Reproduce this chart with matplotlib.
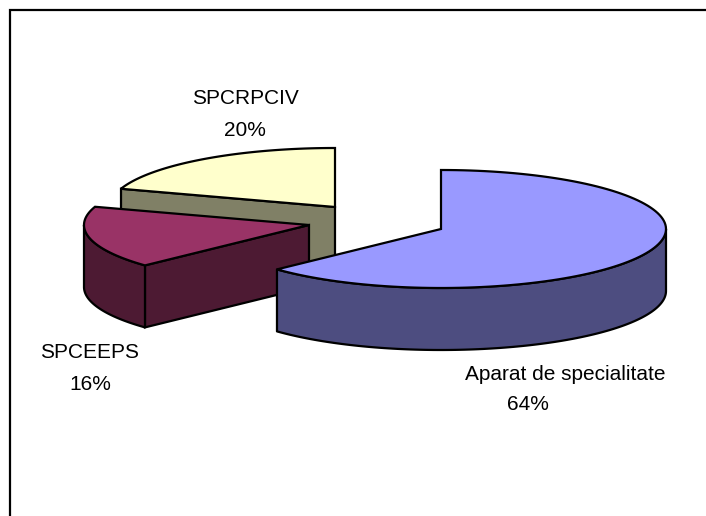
import numpy as np
import matplotlib
matplotlib.use('Agg')
import matplotlib.pyplot as plt

plt.rcParams['font.family'] = ['Liberation Sans', 'DejaVu Sans']

names = ['Aparat de specialitate', 'SPCEEPS', 'SPCRPCIV']
shares = [63.0, 17.0, 20.0]
pct_labels = ['64%', '16%', '20%']
top_colors = ['#9999FF', '#993366', '#FFFFCC']
side_colors = ['#4D4D80', '#4D1A33', '#808066']

# pixel layout of the exploded pie
apex = [(441, 229), (309, 225), (335, 207)]
RX = 225
RY = 59
DEPTH = 62
LW = 1.6


def ellipse_pts(center, a0, a1):
    # angles in degrees, clockwise from 12 o'clock
    t = np.radians(np.linspace(a0, a1, 120))
    return center[0] + RX * np.sin(t), center[1] - RY * np.cos(t)


def cut_face(ax, center, angle, side, z):
    cx, cy = center
    x, y = ellipse_pts(center, angle, angle)
    ax.fill([x[0], cx, cx, x[0]], [y[0], cy, cy + DEPTH, y[0] + DEPTH],
            facecolor=side, edgecolor='k', lw=LW, zorder=z, joinstyle='miter')


def draw_slice(ax, center, a0, a1, top, side, z):
    cx, cy = center
    # cut faces that look towards the viewer
    if a0 >= 270:
        cut_face(ax, center, a0, side, z)
    elif 180 <= a0 < 270:
        cut_face(ax, center, a0, side, z)
    # outer wall, only the part on the near half of the ellipse
    w0 = max(a0, 90)
    w1 = min(a1, 270)
    if w1 > w0:
        x, y = ellipse_pts(center, w0, w1)
        ax.fill(np.r_[x, x[::-1]], np.r_[y, y[::-1] + DEPTH],
                facecolor=side, edgecolor='k', lw=LW, zorder=z + 0.1, joinstyle='round')
    # top surface
    x, y = ellipse_pts(center, a0, a1)
    ax.fill(np.r_[cx, x], np.r_[cy, y], facecolor=top, edgecolor='k', lw=LW,
            zorder=z + 0.2, joinstyle='miter')


fig = plt.figure(figsize=(7.06, 5.16), dpi=100)
ax = fig.add_axes([0, 0, 1, 1])
ax.set_xlim(0, 706)
ax.set_ylim(516, 0)
ax.axis('off')

# chart area border, cropped on the right and at the bottom
ax.plot([10, 10, 706], [516, 9.5, 9.5], color='k', lw=1.6, solid_joinstyle='miter')

edges = np.r_[0, np.cumsum(shares)] / np.sum(shares) * 360
# back to front: yellow, red, blue
for i in [2, 1, 0]:
    draw_slice(ax, apex[i], edges[i], edges[i + 1], top_colors[i], side_colors[i], 3 - i)

FS = 15
ax.text(245.5, 98, names[2], fontsize=FS, ha='center', va='center')
ax.text(245, 130, pct_labels[2], fontsize=FS, ha='center', va='center')
ax.text(40, 352, names[1], fontsize=FS, ha='left', va='center')
ax.text(90, 385, pct_labels[1], fontsize=FS, ha='center', va='center')
ax.text(565.5, 374, names[0], fontsize=FS, ha='center', va='center')
ax.text(527.5, 405, pct_labels[0], fontsize=FS, ha='center', va='center')

fig.savefig('out.png', dpi=100)
